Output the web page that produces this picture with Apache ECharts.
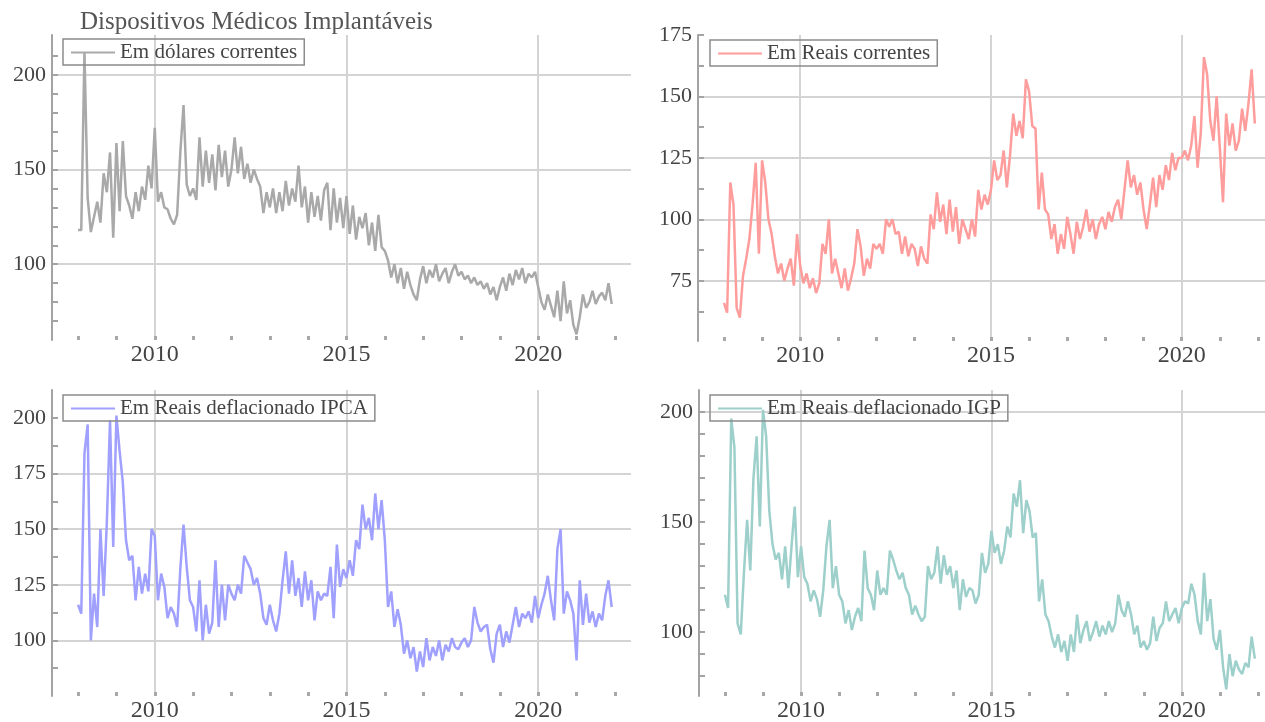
<!DOCTYPE html>
<html>
<head>
<meta charset="utf-8">
<title>Dispositivos Médicos Implantáveis</title>
<script src="https://cdn.jsdelivr.net/npm/echarts@6/dist/echarts.min.js"></script>
<style>
  html, body { margin: 0; padding: 0; background: #fff; }
  #chart { width: 1265px; height: 722px; }
</style>
</head>
<body>
<div id="chart"></div>
<script>
// séries mensais, jan/2008 a dez/2021
const firstYear = 2008;
const lastYear = 2021;

const dolaresCorrentes = [
  118, 118, 212, 135, 117, 125, 133, 122, 148, 138, 159, 114,
  164, 128, 165, 136, 131, 124, 138, 128, 141, 134, 152, 140,
  172, 133, 138, 130, 129, 124, 121, 126, 159, 184, 142, 136,
  140, 134, 167, 141, 160, 143, 158, 139, 163, 146, 160, 141,
  150, 167, 148, 162, 145, 153, 143, 150, 145, 141, 127, 138,
  130, 140, 127, 138, 128, 144, 131, 140, 133, 152, 130, 141,
  122, 138, 125, 136, 123, 139, 143, 118, 140, 122, 135, 119,
  136, 116, 131, 113, 125, 119, 127, 110, 122, 107, 126, 109,
  107, 102, 93, 100, 90, 98, 87, 96, 89, 84, 81, 92,
  99, 90, 97, 93, 100, 91, 95, 98, 90, 96, 100, 94,
  96, 92, 94, 90, 93, 89, 91, 87, 90, 84, 88, 81,
  88, 93, 86, 95, 89, 97, 92, 98, 90, 95, 93, 96,
  88, 80, 76, 84, 78, 72, 86, 70, 91, 74, 81, 68,
  63, 72, 84, 77, 80, 86, 79, 83, 85, 81, 90, 79
];

const reaisCorrentes = [
  66, 62, 115, 106, 64, 60, 77, 84, 92, 106, 123, 86,
  124, 115, 100, 94, 85, 78, 82, 75, 80, 84, 73, 94,
  81, 74, 78, 72, 76, 70, 74, 90, 86, 100, 78, 84,
  78, 72, 80, 71, 76, 82, 96, 89, 77, 84, 80, 90,
  88, 90, 86, 100, 97, 100, 94, 95, 86, 93, 85, 90,
  88, 81, 89, 84, 82, 102, 96, 111, 99, 106, 94, 108,
  95, 105, 90, 100, 96, 92, 100, 93, 112, 104, 110, 106,
  112, 124, 116, 118, 128, 113, 126, 143, 134, 140, 133, 157,
  152, 138, 137, 104, 119, 104, 102, 92, 98, 86, 94, 88,
  101, 94, 86, 99, 92, 97, 104, 95, 100, 92, 98, 101,
  96, 103, 99, 105, 108, 100, 112, 124, 113, 118, 110, 115,
  104, 96, 106, 117, 105, 118, 112, 122, 116, 127, 120, 125,
  125, 128, 124, 130, 142, 121, 135, 166, 159, 140, 132, 150,
  129, 107, 143, 130, 139, 128, 132, 145, 136, 147, 161, 139
];

const reaisIPCA = [
  116, 112, 184, 197, 100, 121, 106, 150, 120, 153, 199, 142,
  201, 185, 171, 145, 136, 138, 118, 133, 121, 130, 122, 150,
  147, 118, 130, 124, 110, 115, 112, 106, 132, 152, 133, 118,
  115, 104, 127, 100, 116, 103, 108, 136, 106, 125, 109, 125,
  121, 118, 125, 121, 138, 135, 132, 125, 128, 121, 110, 107,
  116, 109, 104, 112, 127, 140, 121, 136, 120, 128, 115, 131,
  118, 127, 109, 122, 118, 121, 120, 133, 110, 143, 124, 132,
  128, 136, 129, 145, 141, 161, 150, 155, 145, 166, 150, 163,
  145, 115, 122, 106, 114, 107, 94, 100, 92, 97, 86, 95,
  88, 101, 91, 97, 93, 100, 91, 98, 95, 101, 97, 96,
  99, 101, 97, 100, 115, 108, 104, 106, 107, 96, 90, 103,
  107, 97, 104, 99, 107, 115, 106, 112, 110, 113, 108, 120,
  110, 116, 121, 129, 118, 109, 141, 150, 112, 122, 118, 112,
  91, 127, 107, 121, 108, 113, 106, 112, 109, 120, 127, 115
];

const reaisIGP = [
  117, 111, 197, 184, 104, 99, 127, 151, 128, 170, 189, 148,
  201, 189, 155, 140, 133, 136, 124, 139, 120, 139, 157, 125,
  139, 125, 122, 114, 119, 115, 107, 119, 139, 151, 120, 130,
  117, 114, 104, 110, 101, 107, 111, 105, 137, 120, 117, 110,
  128, 117, 120, 117, 137, 133, 128, 124, 127, 120, 117, 108,
  112, 108, 105, 107, 130, 124, 127, 139, 122, 135, 126, 130,
  120, 128, 110, 124, 116, 120, 119, 113, 117, 136, 127, 131,
  146, 136, 140, 131, 137, 148, 143, 163, 157, 169, 145, 160,
  155, 143, 145, 114, 124, 108, 105, 98, 93, 99, 91, 96,
  87, 99, 91, 108, 95, 101, 105, 96, 100, 105, 98, 103,
  99, 105, 100, 104, 117, 110, 107, 114, 108, 99, 103, 93,
  96, 92, 95, 107, 96, 102, 104, 114, 105, 108, 111, 104,
  111, 114, 113, 122, 117, 105, 99, 127, 105, 115, 97, 92,
  101, 84, 74, 90, 80, 87, 83, 81, 86, 84, 98, 88
];

// eixo do tempo
const yearTicks = [2008, 2009, 2010, 2011, 2012, 2013, 2014, 2015, 2016, 2017, 2018, 2019, 2020, 2021, 2022];
const yearLabels = [2010, 2015, 2020];

// marcas dos eixos verticais
const ticksP1 = [70, 80, 90, 100, 110, 120, 130, 140, 150, 160, 170, 180, 190, 200, 210];
const labelsP1 = [100, 150, 200];
const gridP1 = [100, 150, 200];

const ticksP2 = [62.5, 75, 87.5, 100, 112.5, 125, 137.5, 150, 162.5, 175];
const labelsP2 = [75, 100, 125, 150, 175];
const gridP2 = [75, 100, 125, 150];

const ticksP3 = [87.5, 100, 112.5, 125, 137.5, 150, 162.5, 175, 187.5, 200];
const labelsP3 = [100, 125, 150, 175, 200];
const gridP3 = [100, 125, 150, 175];

const ticksP4 = [80, 90, 100, 110, 120, 130, 140, 150, 160, 170, 180, 190, 200];
const labelsP4 = [100, 150, 200];
const gridP4 = [200];

const months = [];
for (let y = firstYear; y <= lastYear; y++) {
  for (let m = 0; m < 12; m++) months.push(y + m / 12);
}

const serif = "'Liberation Serif', 'DejaVu Serif', serif";

const panels = [
  { name: 'Em dólares correntes', values: dolaresCorrentes, color: '#a9a9a9',
    box: { left: 52, top: 35, width: 579, height: 305 }, yMin: 60, yMax: 221,
    ticks: ticksP1, labels: labelsP1, lines: gridP1, legend: { left: 63, top: 39 } },
  { name: 'Em Reais correntes', values: reaisCorrentes, color: '#ff9c9c',
    box: { left: 698, top: 35, width: 576, height: 306 }, yMin: 50.5, yMax: 175,
    ticks: ticksP2, labels: labelsP2, lines: gridP2, legend: { left: 710, top: 40 } },
  { name: 'Em Reais deflacionado IPCA', values: reaisIPCA, color: '#a0a0ff',
    box: { left: 52, top: 390, width: 579, height: 306 }, yMin: 75, yMax: 212.5,
    ticks: ticksP3, labels: labelsP3, lines: gridP3, legend: { left: 63, top: 395 } },
  { name: 'Em Reais deflacionado IGP', values: reaisIGP, color: '#9dcfcb',
    box: { left: 699, top: 390, width: 575, height: 306 }, yMin: 71, yMax: 210,
    ticks: ticksP4, labels: labelsP4, lines: gridP4, legend: { left: 710, top: 395 } }
];

const grid = [], xAxis = [], yAxis = [], series = [], legend = [];

panels.forEach(function (p, k) {
  grid.push(Object.assign({ outerBoundsMode: 'none' }, p.box));

  // eixo com os anos
  xAxis.push({
    type: 'value', gridIndex: k, min: 2007.32, max: 2022.42,
    axisLine: { show: false },
    axisTick: { show: true, inside: true, length: 4, customValues: yearTicks,
      lineStyle: { color: '#a8a8a8', width: 3 } },
    axisLabel: { customValues: yearLabels, margin: 3, fontSize: 24,
      fontFamily: serif, color: '#444',
      formatter: function (v) { return String(Math.round(v)); } },
    splitLine: { show: false }
  });
  // linhas de grade verticais
  xAxis.push({
    type: 'value', gridIndex: k, min: 2007.32, max: 2022.42,
    axisLine: { show: false },
    axisTick: { show: false, customValues: yearLabels },
    axisLabel: { show: false },
    splitLine: { show: true, lineStyle: { color: '#d4d4d4', width: 2 } }
  });

  yAxis.push({
    type: 'value', gridIndex: k, min: p.yMin, max: p.yMax, position: 'left',
    axisLine: { show: true, lineStyle: { color: '#a3a3a3', width: 2 } },
    axisTick: { show: true, inside: true, length: 6, customValues: p.ticks,
      lineStyle: { color: '#a3a3a3', width: 2 } },
    axisLabel: { customValues: p.labels, margin: 6, fontSize: 22,
      fontFamily: serif, color: '#444' },
    splitLine: { show: false }
  });
  yAxis.push({
    type: 'value', gridIndex: k, min: p.yMin, max: p.yMax, position: 'left',
    axisLine: { show: false },
    axisTick: { show: false, customValues: p.lines },
    axisLabel: { show: false },
    splitLine: { show: true, lineStyle: { color: '#d4d4d4', width: 2 } }
  });

  series.push({
    name: p.name, type: 'line',
    xAxisIndex: 2 * k, yAxisIndex: 2 * k,
    showSymbol: false, animation: false,
    lineStyle: { color: p.color, width: 2.5 },
    itemStyle: { color: p.color },
    data: months.map(function (t, i) { return [t, p.values[i]]; })
  });

  legend.push({
    data: [p.name], left: p.legend.left, top: p.legend.top,
    icon: 'rect', itemWidth: 44, itemHeight: 2,
    padding: [3, 7, 2, 8],
    borderColor: '#8c8c8c', borderWidth: 1.5, backgroundColor: 'transparent',
    selectedMode: false,
    textStyle: { fontSize: 21, fontFamily: serif, color: '#444' }
  });
});

const myChart = echarts.init(document.getElementById('chart'));
myChart.setOption({
  backgroundColor: '#fff',
  animation: false,
  title: {
    text: 'Dispositivos Médicos Implantáveis',
    left: 80, top: 10, padding: 0,
    textStyle: { fontSize: 25, fontWeight: 'normal', fontFamily: serif, color: '#555' }
  },
  grid: grid,
  xAxis: xAxis,
  yAxis: yAxis,
  legend: legend,
  series: series
});
</script>
</body>
</html>
